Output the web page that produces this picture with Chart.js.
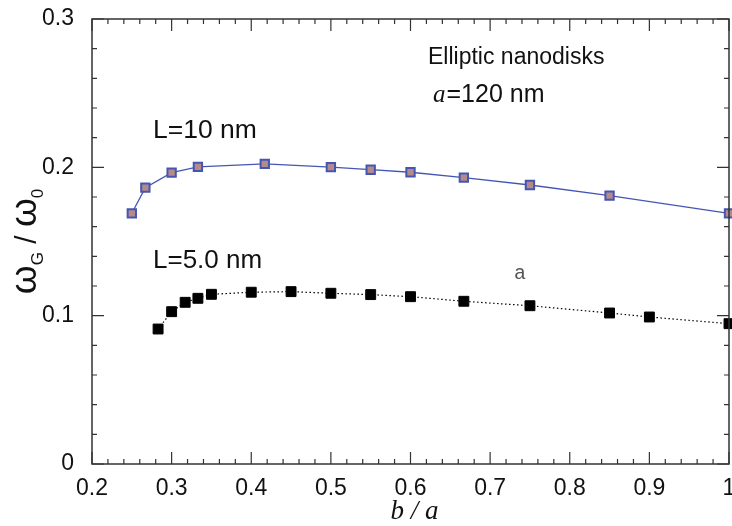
<!DOCTYPE html>
<html>
<head>
<meta charset="utf-8">
<script src="https://cdn.jsdelivr.net/npm/chart.js@4.4.1/dist/chart.umd.min.js"></script>
<style>
  html, body { margin: 0; padding: 0; background: #fff; }
  canvas { display: block; }
</style>
</head>
<body>
<canvas id="myChart" width="732" height="526"></canvas>
<script>
// L = 10 nm
var xValues10 = [0.25, 0.267, 0.3, 0.333, 0.417, 0.5, 0.55, 0.6, 0.667, 0.75, 0.85, 1.0];
var yValues10 = [0.169, 0.1863, 0.1964, 0.2003, 0.2023, 0.2001, 0.1984, 0.1967, 0.1931, 0.1881, 0.1809, 0.169];
// L = 5.0 nm
var xValues5 = [0.283, 0.3, 0.317, 0.333, 0.35, 0.4, 0.45, 0.5, 0.55, 0.6, 0.667, 0.75, 0.85, 0.9, 1.0];
var yValues5 = [0.091, 0.1027, 0.109, 0.1117, 0.1144, 0.1158, 0.1162, 0.1151, 0.1142, 0.1128, 0.1097, 0.1067, 0.1018, 0.0991, 0.0946];

var xMin = 0.2, xMax = 1.0, yMin = 0, yMax = 0.3;
var sans = "'Liberation Sans', Arial, sans-serif";
var serif = "'Liberation Serif', 'Times New Roman', serif";

function toPoints(xs, ys){
    let pts = [];
    for(let i=0;i<xs.length;i++){
        pts.push({x: xs[i], y: ys[i]});
    }
    return pts;
}

function tickText(v){
    return parseFloat(v.toFixed(2)).toString();
}

// box, inward ticks, axis titles and the notes written on the plot
var framePlugin = {
    id: "frame",
    afterDraw(chart){
        const ctx = chart.ctx;
        const a = chart.chartArea;
        const xs = chart.scales.x, ys = chart.scales.y;
        ctx.save();
        ctx.strokeStyle = "#333";
        ctx.lineWidth = 1.5;
        ctx.strokeRect(a.left, a.top, a.right - a.left, a.bottom - a.top);

        ctx.lineWidth = 1.2;
        ctx.beginPath();
        for(let i=0;i<=40;i++){
            let v = xMin + i*0.02;
            if(v > xMax + 1e-9) break;
            let len = (i%5==0) ? 12 : 5;
            let px = xs.getPixelForValue(v);
            ctx.moveTo(px, a.bottom); ctx.lineTo(px, a.bottom - len);
            ctx.moveTo(px, a.top); ctx.lineTo(px, a.top + len);
        }
        for(let i=0;i<=15;i++){
            let v = yMin + i*0.02;
            let len = (i%5==0) ? 12 : 5;
            let py = ys.getPixelForValue(v);
            ctx.moveTo(a.left, py); ctx.lineTo(a.left + len, py);
            ctx.moveTo(a.right, py); ctx.lineTo(a.right - len, py);
        }
        ctx.stroke();

        // y title  omega_G / omega_0
        ctx.fillStyle = "#111";
        ctx.translate(36, (a.top + a.bottom)/2);
        ctx.rotate(-Math.PI/2);
        const parts = [
            ["ω", "37px " + sans, 0],
            ["G", "17px " + sans, 7],
            [" / ", "30px " + sans, 0],
            ["ω", "37px " + sans, 0],
            ["0", "17px " + sans, 7]
        ];
        let total = 0;
        parts.forEach(p => { ctx.font = p[1]; total += ctx.measureText(p[0]).width; });
        let cx = -total/2;
        ctx.textBaseline = "alphabetic";
        parts.forEach(p => {
            ctx.font = p[1];
            ctx.fillText(p[0], cx, p[2]);
            cx += ctx.measureText(p[0]).width;
        });
        ctx.restore();

        ctx.save();
        ctx.fillStyle = "#111";
        ctx.textBaseline = "alphabetic";
        // x title
        ctx.font = "italic 27px " + serif;
        ctx.textAlign = "center";
        ctx.fillText("b / a", (a.left + a.right)/2 + 4, 519);

        ctx.textAlign = "left";
        ctx.font = "23px " + sans;
        ctx.fillText("Elliptic nanodisks", 428, 64);
        ctx.font = "italic 25px " + serif;
        ctx.fillText("a", 433, 102);
        let w = ctx.measureText("a").width;
        ctx.font = "25px " + sans;
        ctx.fillText("=120 nm", 433 + w + 1, 102);

        ctx.font = "26.5px " + sans;
        ctx.fillText("L=10 nm", 153, 138);
        ctx.font = "26px " + sans;
        ctx.fillText("L=5.0 nm", 153, 268);

        ctx.fillStyle = "#555";
        ctx.font = "20px 'Liberation Mono', monospace";
        ctx.textAlign = "center";
        ctx.fillText("a", 520, 279);
        ctx.restore();
    }
};

new Chart("myChart", {
type: "scatter",
data: {
    datasets: [{
        label: "L=10 nm",
        data: toPoints(xValues10, yValues10),
        showLine: true,
        borderColor: "#4556b2",
        borderWidth: 1.3,
        pointStyle: "rect",
        pointRadius: 5.9,
        pointBorderWidth: 2,
        pointBorderColor: "#4556b2",
        pointBackgroundColor: "#b48a8b",
        clip: false
    },{
        label: "L=5.0 nm",
        data: toPoints(xValues5, yValues5),
        showLine: true,
        borderColor: "#000",
        borderWidth: 1.2,
        borderDash: [1.5, 2.5],
        pointStyle: "rect",
        pointRadius: 7,
        pointBorderWidth: 1,
        pointBorderColor: "#000",
        pointBackgroundColor: "#000",
        clip: false
    }]
},
options: {
    responsive: false,
    animation: false,
    layout: {
        autoPadding: false,
        padding: {top: 19, right: 3, left: 0, bottom: 0}
    },
    scales: {
        x: {
            type: "linear",
            min: xMin,
            max: xMax,
            grid: {display: false},
            border: {display: false},
            ticks: {
                stepSize: 0.1,
                autoSkip: false,
                maxRotation: 0,
                padding: 3,
                color: "#111",
                font: {family: sans, size: 23},
                callback: tickText
            },
            afterFit(scale){
                scale.height = 62;
                scale.paddingLeft = 0; scale.paddingRight = 0;
                scale.paddingTop = 0; scale.paddingBottom = 0;
            }
        },
        y: {
            min: yMin,
            max: yMax,
            grid: {display: false},
            border: {display: false},
            ticks: {
                stepSize: 0.1,
                padding: 10,
                color: "#111",
                font: {family: sans, size: 23},
                callback: tickText
            },
            afterFit(scale){
                scale.width = 92;
                scale.paddingLeft = 0; scale.paddingRight = 0;
                scale.paddingTop = 0; scale.paddingBottom = 0;
            }
        }
    },
    plugins: {
        legend: {display: false},
        tooltip: {enabled: false}
    }
},
plugins: [framePlugin]
});
</script>
</body>
</html>
